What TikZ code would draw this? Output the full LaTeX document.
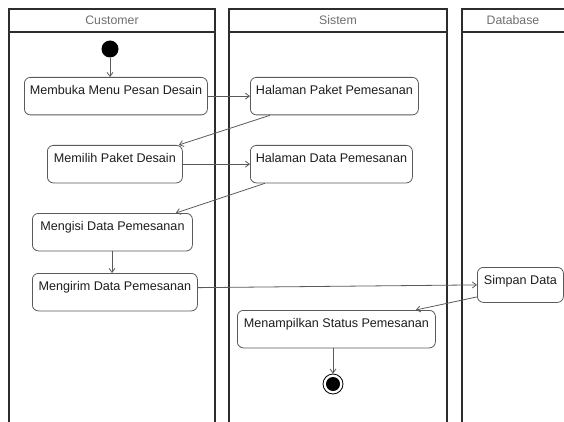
\documentclass[tikz,border=0pt]{standalone}
\usepackage{fontspec}
\setmainfont{Liberation Sans}
\usetikzlibrary{arrows.meta,calc}

\definecolor{laneline}{RGB}{45,45,45}
\definecolor{boxline}{RGB}{90,90,90}
\definecolor{headtext}{RGB}{110,110,110}
\definecolor{acttext}{RGB}{30,30,30}

\tikzset{
  lane/.style={draw=laneline, line width=1.7pt},
  lanehead/.style={text=headtext, font=\fontsize{12.3}{14}\selectfont, anchor=center},
  act/.style={draw=boxline, line width=0.8pt, rounded corners=6pt, fill=white,
    anchor=north west, inner xsep=2pt, inner ysep=4pt,
    text height=13pt, text depth=16.5pt, text=acttext,
    font=\fontsize{12.6}{14}\selectfont},
  flow/.style={draw=boxline, line width=0.8pt, -{Straight Barb[length=4pt,width=6pt]}},
  startnode/.style={circle, fill=black, minimum size=17pt, inner sep=0pt},
  endouter/.style={circle, draw=black, line width=0.8pt, minimum size=20pt, inner sep=0pt},
  endinner/.style={circle, fill=black, minimum size=14pt, inner sep=0pt},
}

\begin{document}
\begin{tikzpicture}[x=1pt,y=-1pt]
  \useasboundingbox (0,0) rectangle (564,422);
  \clip (0,0) rectangle (564,422);

  % swimlanes
  \draw[lane] (9,430) -- (9,9) -- (215,9) -- (215,430);
  \draw[lane] (9,32) -- (215,32);
  \node[lanehead] (hcust) at (112,20.5) {Customer};

  \draw[lane] (229,430) -- (229,9) -- (447,9) -- (447,430);
  \draw[lane] (229,32) -- (447,32);
  \node[lanehead] (hsys) at (338,20.5) {Sistem};

  \draw[lane] (462,430) -- (462,9) -- (575,9);
  \draw[lane] (462,32) -- (575,32);
  \node[lanehead] (hdb) at (513,20.5) {Database};

  % activities
  \node[startnode] (start) at (110,49) {};

  \node[act, minimum width=183pt] (membuka) at (24,77) {Membuka Menu Pesan Desain};
  \node[act, minimum width=168pt] (paket) at (250,77) {Halaman Paket Pemesanan};
  \node[act, minimum width=135pt] (memilih) at (47,145) {Memilih Paket Desain};
  \node[act, minimum width=162pt] (data) at (250,145) {Halaman Data Pemesanan};
  \node[act, minimum width=160pt] (mengisi) at (32,213) {Mengisi Data Pemesanan};
  \node[act, minimum width=165pt] (mengirim) at (32,273) {Mengirim Data Pemesanan};
  \node[act, minimum width=86pt, text depth=14pt, inner xsep=1pt] (simpan) at (477,267) {Simpan Data};
  \node[act, minimum width=198pt] (tampil) at (237,310) {Menampilkan Status Pemesanan};

  \node[endouter] (end) at (333,384) {};
  \node[endinner] (endin) at (333,384) {};

  % control flow
  \draw[flow] (start) -- (start |- membuka.north);
  \draw[flow] (membuka.east) -- (paket.west);
  \draw[flow] ($(paket.south west)+(20,0)$) -- ($(memilih.north east)+(-4,0)$);
  \draw[flow] (memilih.east) -- (data.west);
  \draw[flow] ($(data.south west)+(15,0)$) -- ($(mengisi.north east)+(-17,0)$);
  \draw[flow] (mengisi.south -| 112,0) -- (mengirim.north -| 112,0);
  \draw[flow] ($(mengirim.east)+(0,-4.5)$) -- (simpan.west);
  \draw[flow] ($(simpan.west)+(0,12)$) -- ($(tampil.north east)+(-20,0)$);
  \draw[flow] (tampil.south -| end) -- (end.north);
\end{tikzpicture}
\end{document}
